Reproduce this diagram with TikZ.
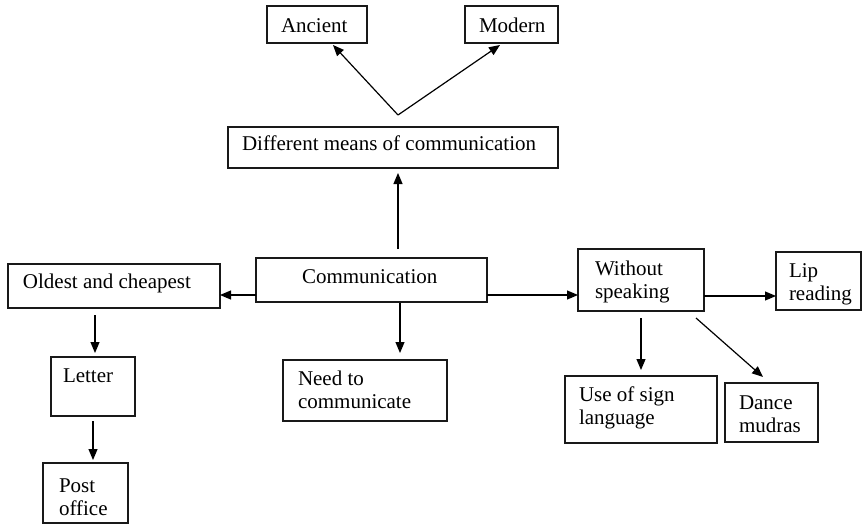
\documentclass[tikz,border=0pt]{standalone}
\usepackage{fontspec}
\setmainfont{Liberation Serif}
\usetikzlibrary{arrows.meta}
\tikzset{
  box/.style={draw=black!90, line width=1.2pt, inner sep=0pt, outer sep=0pt, rectangle},
  txt/.style={font=\fontsize{21}{23}\selectfont, anchor=base west, inner sep=0pt, outer sep=0pt, align=left},
  arr/.style={draw=black, line width=1.2pt, -{Triangle[length=11pt,width=9pt]}}
}
\begin{document}
\begin{tikzpicture}[x=1pt,y=-1pt]
\useasboundingbox (0,0) rectangle (863,525);
% boxes
\node[box, minimum width=100pt, minimum height=37pt] (anc) at (317,24.5) {};
\node[box, minimum width=93pt, minimum height=37pt] (mod) at (511.5,24.5) {};
\node[box, minimum width=330pt, minimum height=41pt] (diff) at (393,147.5) {};
\node[box, minimum width=231pt, minimum height=44pt] (comm) at (371.5,280) {};
\node[box, minimum width=212pt, minimum height=44pt] (old) at (114,286) {};
\node[box, minimum width=84pt, minimum height=59pt] (let) at (93,386.5) {};
\node[box, minimum width=85pt, minimum height=60pt] (post) at (85.5,493) {};
\node[box, minimum width=164pt, minimum height=61pt] (need) at (365,390.5) {};
\node[box, minimum width=126pt, minimum height=62pt] (wo) at (641,280) {};
\node[box, minimum width=85pt, minimum height=58pt] (lip) at (818.5,281) {};
\node[box, minimum width=152pt, minimum height=67pt] (sign) at (641,409.5) {};
\node[box, minimum width=93pt, minimum height=59pt] (dance) at (771.5,412.5) {};
% texts (anchor is the baseline of the last line)
\node[txt] (tanc) at (281,32) {Ancient};
\node[txt] (tmod) at (479,32) {Modern};
\node[txt] (tdiff) at (242,150) {Different means of communication};
\node[txt] (tcomm) at (302,283) {Communication};
\node[txt] (told) at (23,288) {Oldest and cheapest};
\node[txt] (tlet) at (63,382) {Letter};
\node[txt] (tneed) at (298,408) {Need to\\communicate};
\node[txt] (two) at (595,298) {Without\\speaking};
\node[txt] (tlip) at (789,300) {Lip\\reading};
\node[txt] (tsign) at (579,424) {Use of sign\\language};
\node[txt] (tdance) at (739,432) {Dance\\mudras};
\node[txt] (tpost) at (59,515) {Post\\office};
% connectors
\draw[arr] ([xshift=26.5pt,yshift=9pt]comm.north) -- ([xshift=5pt,yshift=-5pt]diff.south);
\coordinate (apex) at ([xshift=5pt,yshift=12pt]diff.north);
\draw[arr] (apex) -- ([xshift=16pt,yshift=-2pt]anc.south);
\draw[arr] (apex) -- ([xshift=-11.5pt,yshift=-2pt]mod.south);
\draw[arr] ([yshift=-15pt]comm.west) -- ([yshift=-15pt]comm.west -| old.east);
\draw[arr] ([yshift=-15pt]comm.east) -- ([yshift=-15pt]comm.east -| wo.west);
\draw[arr] ([yshift=-16pt]wo.east) -- ([yshift=-16pt]wo.east -| lip.west);
\draw[arr] ([xshift=2pt,yshift=-7pt]old.south -| let.north) -- ([xshift=2pt,yshift=4pt]let.north);
\draw[arr] ([yshift=-5pt]let.south) -- ([yshift=3pt]let.south |- post.north);
\draw[arr] ([xshift=28.5pt,yshift=-1pt]comm.south) -- ([xshift=28.5pt,yshift=7pt]comm.south |- need.north);
\draw[arr] ([yshift=-7pt]wo.south) -- ([yshift=6pt]wo.south |- sign.north);
\draw[arr] ([xshift=55pt,yshift=-7pt]wo.south) -- ([xshift=-8.5pt,yshift=6pt]dance.north);
\end{tikzpicture}
\end{document}
